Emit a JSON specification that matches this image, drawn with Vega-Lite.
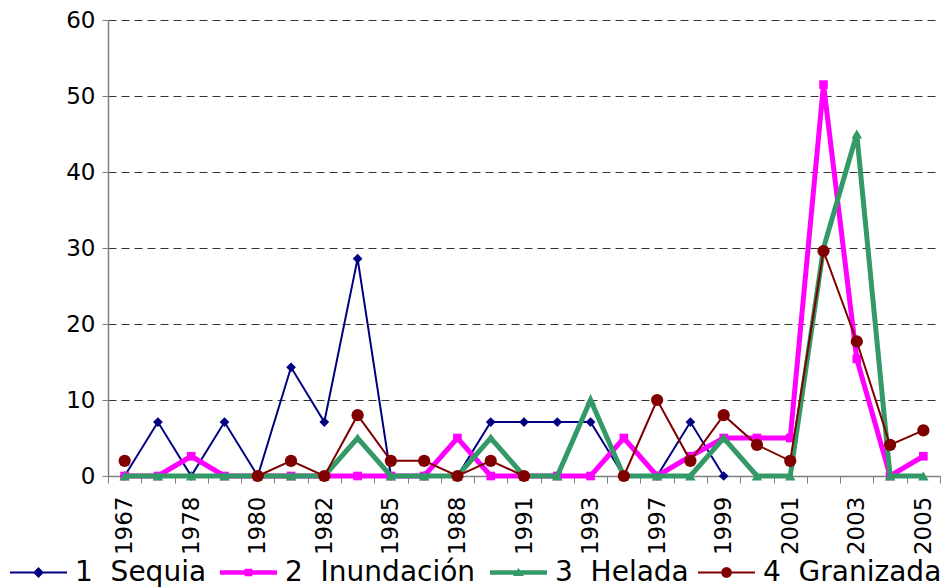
{
  "$schema": "https://vega.github.io/schema/vega-lite/v6.json",
  "width": 832,
  "height": 456,
  "autosize": {"type": "none"},
  "padding": {"left": 108, "top": 20, "right": 1, "bottom": 112},
  "config": {
    "font": "DejaVu Sans",
    "view": {"stroke": null},
    "axis": {"labelFont": "DejaVu Sans", "labelColor": "#000000", "titleFont": "DejaVu Sans"},
    "legend": {
      "orient": "none",
      "labelFont": "DejaVu Sans",
      "labelFontSize": 28,
      "labelColor": "#000000",
      "labelOffset": 8,
      "labelLimit": 0,
      "padding": 0,
      "symbolSize": 3249,
      "symbolStrokeWidth": 0,
      "symbolOpacity": 1,
      "direction": "horizontal"
    }
  },
  "data": {
    "values": [
      {"year": "1967", "series": "1\u00a0\u00a0Sequia", "value": 0},
      {"year": "1977", "series": "1\u00a0\u00a0Sequia", "value": 7.1},
      {"year": "1978", "series": "1\u00a0\u00a0Sequia", "value": 0},
      {"year": "1979", "series": "1\u00a0\u00a0Sequia", "value": 7.1},
      {"year": "1980", "series": "1\u00a0\u00a0Sequia", "value": 0},
      {"year": "1981", "series": "1\u00a0\u00a0Sequia", "value": 14.3},
      {"year": "1982", "series": "1\u00a0\u00a0Sequia", "value": 7.1},
      {"year": "1984", "series": "1\u00a0\u00a0Sequia", "value": 28.6},
      {"year": "1985", "series": "1\u00a0\u00a0Sequia", "value": 0},
      {"year": "1987", "series": "1\u00a0\u00a0Sequia", "value": 0},
      {"year": "1988", "series": "1\u00a0\u00a0Sequia", "value": 0},
      {"year": "1990", "series": "1\u00a0\u00a0Sequia", "value": 7.1},
      {"year": "1991", "series": "1\u00a0\u00a0Sequia", "value": 7.1},
      {"year": "1992", "series": "1\u00a0\u00a0Sequia", "value": 7.1},
      {"year": "1993", "series": "1\u00a0\u00a0Sequia", "value": 7.1},
      {"year": "1995", "series": "1\u00a0\u00a0Sequia", "value": 0},
      {"year": "1997", "series": "1\u00a0\u00a0Sequia", "value": 0},
      {"year": "1998", "series": "1\u00a0\u00a0Sequia", "value": 7.1},
      {"year": "1999", "series": "1\u00a0\u00a0Sequia", "value": 0},
      {"year": "2000", "series": "1\u00a0\u00a0Sequia", "value": null},
      {"year": "2001", "series": "1\u00a0\u00a0Sequia", "value": null},
      {"year": "2002", "series": "1\u00a0\u00a0Sequia", "value": null},
      {"year": "2003", "series": "1\u00a0\u00a0Sequia", "value": null},
      {"year": "2004", "series": "1\u00a0\u00a0Sequia", "value": null},
      {"year": "2005", "series": "1\u00a0\u00a0Sequia", "value": null},

      {"year": "1967", "series": "2\u00a0\u00a0Inundación", "value": 0},
      {"year": "1977", "series": "2\u00a0\u00a0Inundación", "value": 0},
      {"year": "1978", "series": "2\u00a0\u00a0Inundación", "value": 2.6},
      {"year": "1979", "series": "2\u00a0\u00a0Inundación", "value": 0},
      {"year": "1980", "series": "2\u00a0\u00a0Inundación", "value": 0},
      {"year": "1981", "series": "2\u00a0\u00a0Inundación", "value": 0},
      {"year": "1982", "series": "2\u00a0\u00a0Inundación", "value": 0},
      {"year": "1984", "series": "2\u00a0\u00a0Inundación", "value": 0},
      {"year": "1985", "series": "2\u00a0\u00a0Inundación", "value": 0},
      {"year": "1987", "series": "2\u00a0\u00a0Inundación", "value": 0},
      {"year": "1988", "series": "2\u00a0\u00a0Inundación", "value": 5},
      {"year": "1990", "series": "2\u00a0\u00a0Inundación", "value": 0},
      {"year": "1991", "series": "2\u00a0\u00a0Inundación", "value": 0},
      {"year": "1992", "series": "2\u00a0\u00a0Inundación", "value": 0},
      {"year": "1993", "series": "2\u00a0\u00a0Inundación", "value": 0},
      {"year": "1995", "series": "2\u00a0\u00a0Inundación", "value": 5},
      {"year": "1997", "series": "2\u00a0\u00a0Inundación", "value": 0},
      {"year": "1998", "series": "2\u00a0\u00a0Inundación", "value": 2.6},
      {"year": "1999", "series": "2\u00a0\u00a0Inundación", "value": 5},
      {"year": "2000", "series": "2\u00a0\u00a0Inundación", "value": 5},
      {"year": "2001", "series": "2\u00a0\u00a0Inundación", "value": 5},
      {"year": "2002", "series": "2\u00a0\u00a0Inundación", "value": 51.5},
      {"year": "2003", "series": "2\u00a0\u00a0Inundación", "value": 15.4},
      {"year": "2004", "series": "2\u00a0\u00a0Inundación", "value": 0},
      {"year": "2005", "series": "2\u00a0\u00a0Inundación", "value": 2.6},

      {"year": "1967", "series": "3\u00a0\u00a0Helada", "value": 0},
      {"year": "1977", "series": "3\u00a0\u00a0Helada", "value": 0},
      {"year": "1978", "series": "3\u00a0\u00a0Helada", "value": 0},
      {"year": "1979", "series": "3\u00a0\u00a0Helada", "value": 0},
      {"year": "1980", "series": "3\u00a0\u00a0Helada", "value": 0},
      {"year": "1981", "series": "3\u00a0\u00a0Helada", "value": 0},
      {"year": "1982", "series": "3\u00a0\u00a0Helada", "value": 0},
      {"year": "1984", "series": "3\u00a0\u00a0Helada", "value": 5},
      {"year": "1985", "series": "3\u00a0\u00a0Helada", "value": 0},
      {"year": "1987", "series": "3\u00a0\u00a0Helada", "value": 0},
      {"year": "1988", "series": "3\u00a0\u00a0Helada", "value": 0},
      {"year": "1990", "series": "3\u00a0\u00a0Helada", "value": 5},
      {"year": "1991", "series": "3\u00a0\u00a0Helada", "value": 0},
      {"year": "1992", "series": "3\u00a0\u00a0Helada", "value": 0},
      {"year": "1993", "series": "3\u00a0\u00a0Helada", "value": 10},
      {"year": "1995", "series": "3\u00a0\u00a0Helada", "value": 0},
      {"year": "1997", "series": "3\u00a0\u00a0Helada", "value": 0},
      {"year": "1998", "series": "3\u00a0\u00a0Helada", "value": 0},
      {"year": "1999", "series": "3\u00a0\u00a0Helada", "value": 5},
      {"year": "2000", "series": "3\u00a0\u00a0Helada", "value": 0},
      {"year": "2001", "series": "3\u00a0\u00a0Helada", "value": 0},
      {"year": "2002", "series": "3\u00a0\u00a0Helada", "value": 30},
      {"year": "2003", "series": "3\u00a0\u00a0Helada", "value": 45},
      {"year": "2004", "series": "3\u00a0\u00a0Helada", "value": 0},
      {"year": "2005", "series": "3\u00a0\u00a0Helada", "value": 0},

      {"year": "1967", "series": "4\u00a0\u00a0Granizada", "value": 2},
      {"year": "1977", "series": "4\u00a0\u00a0Granizada", "value": null},
      {"year": "1978", "series": "4\u00a0\u00a0Granizada", "value": null},
      {"year": "1979", "series": "4\u00a0\u00a0Granizada", "value": null},
      {"year": "1980", "series": "4\u00a0\u00a0Granizada", "value": 0},
      {"year": "1981", "series": "4\u00a0\u00a0Granizada", "value": 2},
      {"year": "1982", "series": "4\u00a0\u00a0Granizada", "value": 0},
      {"year": "1984", "series": "4\u00a0\u00a0Granizada", "value": 8},
      {"year": "1985", "series": "4\u00a0\u00a0Granizada", "value": 2},
      {"year": "1987", "series": "4\u00a0\u00a0Granizada", "value": 2},
      {"year": "1988", "series": "4\u00a0\u00a0Granizada", "value": 0},
      {"year": "1990", "series": "4\u00a0\u00a0Granizada", "value": 2},
      {"year": "1991", "series": "4\u00a0\u00a0Granizada", "value": 0},
      {"year": "1992", "series": "4\u00a0\u00a0Granizada", "value": null},
      {"year": "1993", "series": "4\u00a0\u00a0Granizada", "value": null},
      {"year": "1995", "series": "4\u00a0\u00a0Granizada", "value": 0},
      {"year": "1997", "series": "4\u00a0\u00a0Granizada", "value": 10},
      {"year": "1998", "series": "4\u00a0\u00a0Granizada", "value": 2},
      {"year": "1999", "series": "4\u00a0\u00a0Granizada", "value": 8},
      {"year": "2000", "series": "4\u00a0\u00a0Granizada", "value": 4.1},
      {"year": "2001", "series": "4\u00a0\u00a0Granizada", "value": 2},
      {"year": "2002", "series": "4\u00a0\u00a0Granizada", "value": 29.6},
      {"year": "2003", "series": "4\u00a0\u00a0Granizada", "value": 17.7},
      {"year": "2004", "series": "4\u00a0\u00a0Granizada", "value": 4.1},
      {"year": "2005", "series": "4\u00a0\u00a0Granizada", "value": 6}
    ]
  },
  "encoding": {
    "x": {
      "field": "year",
      "type": "ordinal",
      "scale": {"type": "band", "paddingInner": 0, "paddingOuter": 0},
      "axis": {
        "title": null,
        "grid": false,
        "tickBand": "extent",
        "labelAngle": 270,
        "labelFontSize": 23,
        "labelPadding": 13,
        "labelOverlap": false,
        "labelExpr": "indexof(['1967','1978','1980','1982','1985','1988','1991','1993','1997','1999','2001','2003','2005'], datum.label) >= 0 ? datum.label : ''",
        "domainColor": "#808080",
        "domainWidth": 1.5,
        "tickColor": "#808080",
        "tickWidth": 1,
        "tickSize": 7
      }
    },
    "y": {
      "field": "value",
      "type": "quantitative",
      "scale": {"domain": [0, 60], "nice": false, "zero": true},
      "axis": {
        "title": null,
        "values": [0, 10, 20, 30, 40, 50, 60],
        "labelFontSize": 23,
        "labelPadding": 7,
        "domainColor": "#808080",
        "domainWidth": 1.5,
        "tickColor": "#808080",
        "tickSize": 6,
        "grid": true,
        "gridColor": "#333333",
        "gridDash": [8, 5],
        "gridWidth": 1
      }
    }
  },
  "layer": [
    {
      "transform": [{"filter": {"field": "series", "equal": "1\u00a0\u00a0Sequia"}}],
      "mark": {"type": "line", "color": "#000080", "strokeWidth": 2, "invalid": "break-paths-show-domains"}
    },
    {
      "transform": [{"filter": {"field": "series", "equal": "1\u00a0\u00a0Sequia"}}],
      "mark": {"type": "point", "shape": "diamond", "size": 95, "filled": true, "opacity": 1},
      "encoding": {
        "color": {
          "field": "series", "type": "nominal",
          "scale": {"domain": ["1\u00a0\u00a0Sequia"], "range": ["#000080"]},
          "legend": {"title": null, "legendX": -98, "legendY": 524,
            "symbolType": "M-1,-0.035L1,-0.035L1,0.035L-1,0.035Z M-0.19,0L0,-0.19L0.19,0L0,0.19Z"}
        }
      }
    },
    {
      "transform": [{"filter": {"field": "series", "equal": "2\u00a0\u00a0Inundación"}}],
      "mark": {"type": "line", "color": "#FF00FF", "strokeWidth": 5, "invalid": "break-paths-show-domains"}
    },
    {
      "transform": [{"filter": {"field": "series", "equal": "2\u00a0\u00a0Inundación"}}],
      "mark": {"type": "point", "shape": "square", "size": 75, "filled": true, "opacity": 1},
      "encoding": {
        "color": {
          "field": "series", "type": "nominal",
          "scale": {"domain": ["2\u00a0\u00a0Inundación"], "range": ["#FF00FF"]},
          "legend": {"title": null, "legendX": 112, "legendY": 524,
            "symbolType": "M-1,-0.08L1,-0.08L1,0.08L-1,0.08Z M-0.135,-0.135L0.135,-0.135L0.135,0.135L-0.135,0.135Z"}
        }
      }
    },
    {
      "transform": [{"filter": {"field": "series", "equal": "3\u00a0\u00a0Helada"}}],
      "mark": {"type": "line", "color": "#339966", "strokeWidth": 5, "invalid": "break-paths-show-domains"}
    },
    {
      "transform": [{"filter": {"field": "series", "equal": "3\u00a0\u00a0Helada"}}],
      "mark": {"type": "point", "shape": "triangle-up", "size": 110, "filled": true, "opacity": 1},
      "encoding": {
        "color": {
          "field": "series", "type": "nominal",
          "scale": {"domain": ["3\u00a0\u00a0Helada"], "range": ["#339966"]},
          "legend": {"title": null, "legendX": 382, "legendY": 524,
            "symbolType": "M-1,-0.08L1,-0.08L1,0.08L-1,0.08Z M0,-0.16L0.19,0.12L-0.19,0.12Z"}
        }
      }
    },
    {
      "transform": [{"filter": {"field": "series", "equal": "4\u00a0\u00a0Granizada"}}],
      "mark": {"type": "line", "color": "#800000", "strokeWidth": 2, "invalid": "break-paths-show-domains"}
    },
    {
      "transform": [{"filter": {"field": "series", "equal": "4\u00a0\u00a0Granizada"}}],
      "mark": {"type": "point", "shape": "circle", "size": 150, "filled": true, "opacity": 1},
      "encoding": {
        "color": {
          "field": "series", "type": "nominal",
          "scale": {"domain": ["4\u00a0\u00a0Granizada"], "range": ["#800000"]},
          "legend": {"title": null, "legendX": 590, "legendY": 524,
            "symbolType": "M-1,-0.035L1,-0.035L1,0.035L-1,0.035Z M0.19,0L0.1645,0.095L0.095,0.1645L0,0.19L-0.095,0.1645L-0.1645,0.095L-0.19,0L-0.1645,-0.095L-0.095,-0.1645L0,-0.19L0.095,-0.1645L0.1645,-0.095Z"}
        }
      }
    }
  ],
  "resolve": {"scale": {"color": "independent"}, "legend": {"color": "independent"}}
}
